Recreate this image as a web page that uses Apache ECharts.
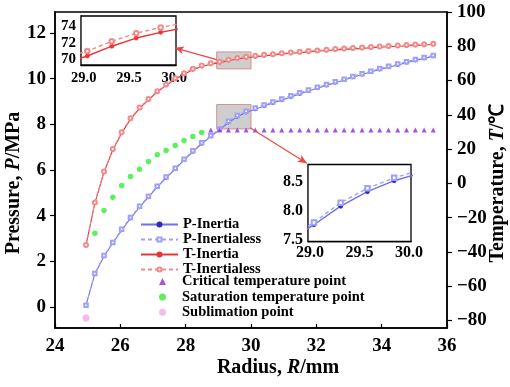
<!DOCTYPE html>
<html>
<head>
<meta charset="utf-8">
<script src="https://cdn.jsdelivr.net/npm/echarts@6/dist/echarts.min.js"></script>
<style>
  html, body { margin: 0; padding: 0; background: #fff; }
  #chart { width: 510px; height: 387px; }
</style>
</head>
<body>
<div id="chart"></div>
<script>
// Radius samples (mm)
const radius = [24.95, 25.22, 25.50, 25.77, 26.04, 26.31, 26.59, 26.86, 27.13, 27.40,
                27.68, 27.95, 28.22, 28.49, 28.77, 29.04, 29.31, 29.58, 29.85, 30.13,
                30.40, 30.67, 30.94, 31.22, 31.49, 31.76, 32.03, 32.31, 32.58, 32.85,
                33.12, 33.40, 33.67, 33.94, 34.21, 34.49, 34.76, 35.03, 35.30, 35.58];

// Pressure (MPa)
const pInertia = [0.08, 1.45, 2.22, 2.80, 3.36, 3.88, 4.37, 4.81, 5.25, 5.65,
                  6.04, 6.43, 6.80, 7.15, 7.47, 7.76, 8.08, 8.33, 8.52, 8.66,
                  8.80, 8.93, 9.06, 9.20, 9.33, 9.46, 9.58, 9.70, 9.82, 9.94,
                  10.06, 10.18, 10.29, 10.40, 10.50, 10.60, 10.70, 10.80, 10.89, 10.98];
const pInertialess = [0.08, 1.47, 2.25, 2.83, 3.40, 3.92, 4.41, 4.85, 5.29, 5.69,
                      6.08, 6.47, 6.84, 7.19, 7.51, 7.80, 8.14, 8.39, 8.57, 8.71,
                      8.85, 8.98, 9.11, 9.25, 9.38, 9.50, 9.62, 9.74, 9.86, 9.98,
                      10.10, 10.22, 10.33, 10.44, 10.54, 10.64, 10.74, 10.84, 10.93, 11.02];

// Temperature (°C)
const tInertia = [-36.0, -11.5, 6.5, 19.5, 29.3, 37.5, 43.8, 48.7, 53.3, 57.2,
                  60.8, 63.7, 66.3, 68.2, 69.5, 70.4, 71.6, 72.6, 73.3, 73.9,
                  74.4, 74.9, 75.4, 75.9, 76.3, 76.7, 77.1, 77.5, 77.9, 78.2,
                  78.5, 78.8, 79.1, 79.4, 79.7, 80.0, 80.2, 80.5, 80.7, 81.0];
const tInertialess = [-36.0, -11.2, 6.9, 20.0, 29.8, 38.0, 44.3, 49.2, 53.8, 57.7,
                      61.3, 64.3, 66.9, 68.8, 70.1, 71.0, 72.2, 73.2, 73.9, 74.5,
                      75.0, 75.4, 75.9, 76.4, 76.8, 77.2, 77.6, 78.0, 78.4, 78.7,
                      79.0, 79.3, 79.6, 79.9, 80.2, 80.5, 80.7, 81.0, 81.2, 81.5];

// Saturation temperature (°C) at radius indices 1..13
const satRadius = [25.22, 25.50, 25.77, 26.04, 26.31, 26.59, 26.86, 27.13, 27.40, 27.68, 27.95, 28.22, 28.49];
const satTemp = [-29.1, -15.9, -8.1, -1.3, 4.0, 8.3, 12.8, 16.7, 19.2, 22.1, 25.0, 27.4, 29.7];

// Critical temperature (°C) from radius index 14 on
const critRadius = radius.slice(14);
const critTemp = critRadius.map(() => 31.1);

// Sublimation point
const sublimationRadius = [24.95];
const sublimationTemp = [-78.5];

// Tick labels
const pTicks = [0, 2, 4, 6, 8, 10, 12];
const tTicks = [-80, -60, -40, -20, 0, 20, 40, 60, 80, 100];
const insetXTicks = [29.0, 29.5, 30.0];
const insetTTicks = [70, 72, 74];
const insetPTicks = [7.5, 8.0, 8.5];

const FONT = '"Liberation Serif", "Times New Roman", serif';
const pair = (xs, ys) => xs.map((x, i) => [x, ys[i]]);
const minus = v => String(v).replace('-', '\u2212');

const BLUE_LINE = '#7070ea';
const BLUE_DOT = '#2a2ac8';
const BLUE_DASH = '#a0a0f4';
const RED_LINE = '#e83636';
const RED_DASH = '#f28a8a';

// Axis-title style; the empty "s" segment offsets the title along its axis
function nameStyle(size, shift) {
  return {
    fontFamily: FONT, fontWeight: 'bold', fontSize: size, color: '#000',
    rich: {
      a: { fontFamily: FONT, fontWeight: 'bold', fontSize: size, color: '#000' },
      i: { fontFamily: FONT, fontWeight: 'bold', fontStyle: 'italic', fontSize: size, color: '#000' },
      s: { width: shift, fontSize: size }
    }
  };
}

function valueAxis(o) {
  const base = {
    type: 'value',
    splitLine: { show: false },
    nameMoveOverlap: false,
    axisLine: { show: true, onZero: false, lineStyle: { color: '#000', width: 1.5 } },
    axisTick: { show: true, inside: false, length: 5, lineStyle: { color: '#000', width: 1.2 } },
    axisLabel: { fontFamily: FONT, fontWeight: 'bold', fontSize: 19, color: '#000', formatter: minus }
  };
  return Object.assign(base, o, {
    axisTick: Object.assign({}, base.axisTick, o.axisTick || {}),
    axisLabel: Object.assign({}, base.axisLabel, o.axisLabel || {})
  });
}

function insetAxis(o) {
  return Object.assign({
    type: 'value',
    splitLine: { show: false },
    axisLine: { show: true, onZero: false, lineStyle: { color: '#000', width: 1.3 } },
  }, o);
}

const lineSeries = (name, xi, yi, data, color, dotColor, dashed, symbol, size, width) => ({
  name, type: 'line', xAxisIndex: xi, yAxisIndex: yi, data,
  symbol, symbolSize: size, showSymbol: true,
  lineStyle: { color, width, type: dashed ? [4, 3] : 'solid' },
  itemStyle: { color: dotColor, borderColor: dotColor, borderWidth: 0.8 },
  clip: true, z: 3
});

const legendText = { fontFamily: FONT, fontWeight: 'bold', fontSize: 14.5, color: '#000', lineHeight: 14 };

const option = {
  animation: false,
  backgroundColor: '#fff',
  grid: [
    { left: 55, top: 12, right: 63, bottom: 59, show: true, borderColor: '#000', borderWidth: 1.5, outerBoundsMode: 'none', containLabel: false },
    { left: 81, top: 16, width: 95, height: 49, show: true, borderColor: '#000', borderWidth: 1.3, backgroundColor: '#fff', z: 5, outerBoundsMode: 'none', containLabel: false },
    { left: 308, top: 164.5, width: 103, height: 77, show: true, borderColor: '#000', borderWidth: 1.3, backgroundColor: '#fff', z: 5, outerBoundsMode: 'none', containLabel: false }
  ],
  legend: [
    {
      orient: 'vertical', left: 140, top: 217, padding: 0, itemWidth: 37, itemHeight: 5, itemGap: 0,
      textStyle: Object.assign({}, legendText, { lineHeight: 14.2 }),
      data: ['P-Inertia', 'P-Inertialess', 'T-Inertia', 'T-Inertialess']
    },
    {
      orient: 'vertical', left: 159, top: 274, padding: 0, itemWidth: 7, itemHeight: 7, itemGap: 0.4,
      textStyle: Object.assign({ padding: [0, 0, 0, 11] }, legendText),
      data: ['Critical temperature point', 'Saturation temperature point', 'Sublimation point']
    }
  ],
  xAxis: [
    valueAxis({
      gridIndex: 0, min: 24, max: 36, interval: 2,
      name: '{s|}{a|Radius, }{i|R}{a|/mm}', nameLocation: 'middle', nameGap: 30, nameTextStyle: nameStyle(20, 54),
      axisTick: { inside: true, length: 4 },
      axisLabel: { margin: 9 }
    }),
    insetAxis({
      gridIndex: 1, min: 28.97, max: 30.02,
      axisTick: { show: true, inside: true, length: 3, customValues: insetXTicks, lineStyle: { color: '#000' } },
      axisLabel: { customValues: insetXTicks, formatter: v => v.toFixed(1), margin: 6,
                   fontFamily: FONT, fontWeight: 'bold', fontSize: 14.5, color: '#000' }
    }),
    insetAxis({
      gridIndex: 2, min: 28.98, max: 30.02,
      axisTick: { show: true, inside: true, length: 4, customValues: insetXTicks, lineStyle: { color: '#000' } },
      axisLabel: { customValues: insetXTicks, formatter: v => v.toFixed(1), margin: 3,
                   fontFamily: FONT, fontWeight: 'bold', fontSize: 16, color: '#000' }
    })
  ],
  yAxis: [
    valueAxis({
      gridIndex: 0, min: -0.92, max: 12.92, position: 'left',
      name: '{a|Pressure, }{i|P}{a|/MPa}{s|}', nameLocation: 'middle', nameGap: 31, nameRotate: 90,
      nameTextStyle: nameStyle(20, 26),
      axisTick: { customValues: pTicks },
      axisLabel: { customValues: pTicks, margin: 9 }
    }),
    valueAxis({
      gridIndex: 0, min: -84.4, max: 100, position: 'right',
      name: '{a|Temperature, }{i|T}{a|/℃}{s|}', nameLocation: 'middle', nameGap: 41, nameRotate: 90,
      nameTextStyle: nameStyle(20, 26),
      axisTick: { customValues: tTicks },
      axisLabel: { customValues: tTicks, margin: 10 }
    }),
    insetAxis({
      gridIndex: 1, min: 69.3, max: 75.3,
      axisTick: { show: true, inside: true, length: 3, customValues: insetTTicks, lineStyle: { color: '#000' } },
      axisLabel: { customValues: insetTTicks, margin: 5,
                   fontFamily: FONT, fontWeight: 'bold', fontSize: 15, color: '#000' }
    }),
    insetAxis({
      gridIndex: 2, min: 7.47, max: 8.8,
      axisTick: { show: true, inside: true, length: 3, customValues: insetPTicks, lineStyle: { color: '#000' } },
      axisLabel: { customValues: insetPTicks, formatter: v => v.toFixed(1), margin: 5,
                   fontFamily: FONT, fontWeight: 'bold', fontSize: 16, color: '#000' }
    })
  ],
  series: [
    Object.assign(lineSeries('P-Inertia', 0, 0, pair(radius, pInertia), BLUE_LINE, BLUE_DOT, false, 'circle', 3, 1.1), {
      markArea: {
        silent: true,
        itemStyle: { color: 'rgba(185,185,185,0.7)', borderColor: '#d89090', borderWidth: 1 },
        data: [[{ coord: [28.95, 7.80] }, { coord: [30.0, 8.87] }]]
      },
      markLine: {
        silent: true, symbol: ['none', 'arrow'], symbolSize: [6, 9],
        lineStyle: { color: '#e84848', width: 1.2, type: 'solid' }, label: { show: false },
        data: [[{ coord: [29.97, 7.85] }, { coord: [31.71, 6.30] }]]
      }
    }),
    lineSeries('P-Inertialess', 0, 0, pair(radius, pInertialess), BLUE_DASH, BLUE_DASH, true, 'emptyRect', 3.5, 1.1),
    Object.assign(lineSeries('T-Inertia', 0, 1, pair(radius, tInertia), RED_LINE, RED_LINE, false, 'circle', 3, 1.1), {
      markArea: {
        silent: true,
        itemStyle: { color: 'rgba(185,185,185,0.7)', borderColor: '#d89090', borderWidth: 1 },
        data: [[{ coord: [28.95, 66.8] }, { coord: [30.0, 76.7] }]]
      },
      markLine: {
        silent: true, symbol: ['none', 'arrow'], symbolSize: [6, 9],
        lineStyle: { color: '#e84848', width: 1.2, type: 'solid' }, label: { show: false },
        data: [[{ coord: [28.95, 72.2] }, { coord: [27.67, 79.1] }]]
      }
    }),
    lineSeries('T-Inertialess', 0, 1, pair(radius, tInertialess), RED_DASH, RED_DASH, true, 'emptyCircle', 4, 1.1),
    {
      name: 'Critical temperature point', type: 'scatter', xAxisIndex: 0, yAxisIndex: 1,
      data: pair(critRadius, critTemp), symbol: 'triangle', symbolSize: 5,
      itemStyle: { color: '#8a2be2' }, z: 4
    },
    {
      name: 'Saturation temperature point', type: 'scatter', xAxisIndex: 0, yAxisIndex: 1,
      data: pair(satRadius, satTemp), symbol: 'circle', symbolSize: 5.5,
      itemStyle: { color: '#33ee33' }, z: 4
    },
    {
      name: 'Sublimation point', type: 'scatter', xAxisIndex: 0, yAxisIndex: 1,
      data: pair(sublimationRadius, sublimationTemp), symbol: 'circle', symbolSize: 7,
      itemStyle: { color: '#f4a8f0' }, z: 4
    },
    // Inset: temperature around R = 29–30 mm
    Object.assign(lineSeries('T-Inertia', 1, 2, pair(radius, tInertia), RED_LINE, RED_LINE, false, 'circle', 4, 1.4), { z: 6 }),
    Object.assign(lineSeries('T-Inertialess', 1, 2, pair(radius, tInertialess), RED_DASH, RED_DASH, true, 'emptyCircle', 4.5, 1.4), { z: 6 }),
    // Inset: pressure around R = 29–30 mm
    Object.assign(lineSeries('P-Inertia', 2, 3, pair(radius, pInertia), BLUE_LINE, BLUE_DOT, false, 'circle', 4, 1.4), { z: 6 }),
    Object.assign(lineSeries('P-Inertialess', 2, 3, pair(radius, pInertialess), BLUE_DASH, BLUE_DASH, true, 'emptyRect', 4.5, 1.4), { z: 6 })
  ]
};

const chart = echarts.init(document.getElementById('chart'), null, { renderer: 'canvas' });
chart.setOption(option);
</script>
</body>
</html>
